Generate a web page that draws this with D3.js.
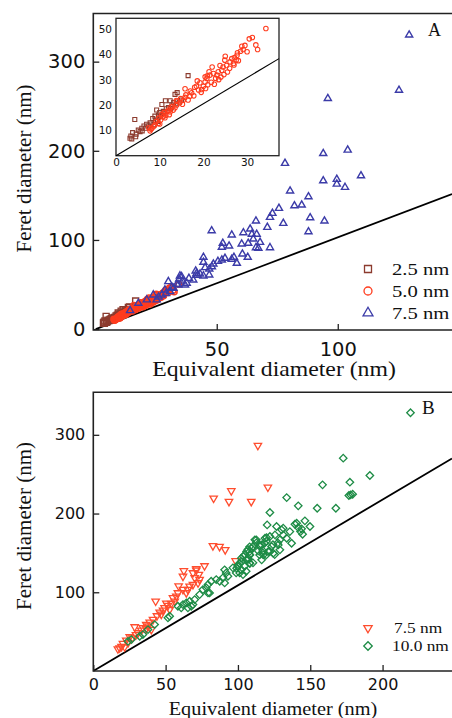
<!DOCTYPE html>
<html>
<head>
<meta charset="utf-8">
<script src="https://cdn.jsdelivr.net/npm/d3@7"></script>
<style>
  body { margin: 0; background: #fff; }
  svg { display: block; }
</style>
</head>
<body>
<svg id="chart" width="452" height="718"></svg>
<script>
// [equivalent diameter, feret diameter] in nm
const sq25 = [[3.2, 6.9], [3.4, 7.8], [3.8, 9.1], [4.6, 8.5], [5.1, 10.1], [5.9, 10.8], [6.4, 11.7], [4.3, 14.3],
    [7, 12.4], [7.8, 13], [8.4, 14.7], [8.9, 15.6], [9.3, 18], [9.7, 16], [10.5, 20.2], [11.3, 21.7], [12.4, 21.7],
    [13.5, 24.2], [14, 24.9], [16.5, 31.6], [10, 17], [10.8, 17.5], [11.5, 18.5], [12, 19], [12.8, 20], [13.2, 21],
    [7.5, 11.8], [8, 12.5], [9, 14], [6, 9.8], [5.5, 9.5], [10.2, 15.5], [11, 16.8], [12.5, 18.6], [13.8, 20.5],
    [14.5, 21.2], [15, 22], [9.5, 13.5], [8.7, 12.2], [3.6, 6.6], [4.5, 7.5], [6.8, 10.8]];

const circ50 = [[34.3, 50.2], [31.2, 46.6], [30.5, 46.1], [32, 43.7], [32.4, 41.9], [28.8, 43.2], [29.1, 41.9],
    [28.5, 41.2], [27.8, 40.6], [27.7, 39.6], [27.1, 38.7], [27.5, 37.7], [26.5, 38.3], [26.1, 37], [26.9, 36.4],
    [24.9, 37.7], [25.3, 35.6], [24.5, 35], [24.2, 33.7], [23.8, 35.6], [23.4, 33.1], [23.1, 31.8], [22.3, 32.4],
    [21.5, 31.8], [20.9, 31.5], [20.4, 31.1], [21.3, 33.1], [20.8, 30.5], [20.4, 29.1], [20, 27.4], [19.6, 26.1],
    [18.9, 25.9], [18.4, 27.4], [17.3, 24.8], [16.9, 23.5], [15.8, 23], [15.4, 21.9], [14.6, 20.9], [13.9, 20],
    [13.5, 18.9], [13.1, 18], [12.4, 17.3], [12, 18], [11.4, 16], [10.8, 15.4], [10.2, 14.1], [9.7, 12.8],
    [8.9, 12.1], [8.2, 10.8], [7.8, 9.8], [15.8, 26.4], [25, 39.2], [22, 35], [21.8, 29], [22.8, 30.5], [24, 31],
    [25.5, 33], [26, 34.5], [19.2, 28.8], [18, 27], [17, 25.5], [16.5, 22], [17.8, 23.6], [19.5, 25], [20.5, 26.5],
    [21, 28], [23.5, 30], [14.8, 22.5], [14, 21.5], [13, 19.5], [12.6, 19.2], [11.8, 17.5], [11, 17], [10.5, 16.3],
    [9.8, 14.8], [9.2, 13.5], [8.6, 11.5], [16, 24], [27, 35.8], [28, 37.5], [29.5, 43.5], [30, 41], [18.6, 29.5],
    [22.5, 28.2], [24.7, 32], [13.8, 21.8], [15.2, 20.3], [12.2, 16.2], [11.2, 15], [10, 12.5], [8, 10.5], [7.5, 11]];

const triA75 = [[129.5, 330], [125.3, 268], [95.9, 258.7], [94, 197], [104.1, 200.8], [78.2, 186], [94, 166.4],
    [99.6, 168], [109.6, 172], [80.3, 155], [87.9, 148.5], [99.6, 162.7], [103, 159], [82.1, 138.4], [85.1, 139.2],
    [75.7, 135.5], [73, 129.9], [72, 125.4], [88.6, 125], [94.5, 121.3], [66.2, 121.3], [77.5, 118.7], [70.9, 114.2],
    [87.9, 109.3], [63.8, 112.3], [61, 108.2], [47.9, 110.4], [56.2, 105.6], [64.5, 106.4], [66.5, 106.4],
    [65.1, 101.1], [67.9, 97.4], [52.5, 96.3], [60.3, 95.5], [63, 96.3], [52.1, 91.8], [55.1, 93.3], [66.2, 91.4],
    [67.2, 90.7], [72, 91.4], [44.5, 80.6], [60.6, 84.3], [62.8, 80.6], [52.1, 77.6], [53.4, 79.5], [56.2, 78.4],
    [57.1, 80.6], [58.3, 73.9], [48.6, 73.1], [44.5, 75], [45.2, 69], [46.9, 67.5], [41.3, 65.3], [43.1, 61.9],
    [46.9, 60.8], [44.5, 59.7], [35.5, 58.9], [34.5, 56.3], [40.3, 55.2], [30, 53.3], [36.9, 49.6], [33.5, 50.4],
    [32.1, 45.9], [28.6, 44], [34.8, 59.7], [37.6, 51.5], [34.1, 49.6], [41.7, 62.7], [30.7, 42.1], [27.3, 38.4],
    [23.8, 38.4], [21.1, 32.8], [17.6, 29.1], [14.2, 20.8], [25.2, 32.8], [26, 36], [29, 40], [31.5, 47],
    [35.8, 54], [38.5, 57], [42, 60.5], [48, 70], [50.5, 76]];

const triB75 = [[113.8, 286.4], [120.7, 233.4], [95.4, 228.8], [83.2, 219.4], [93.8, 215.2], [109.2, 215.2],
    [82.7, 159], [87.3, 158.1], [91.2, 153.9], [98.4, 139.9], [76.9, 133.5], [71.2, 129.7], [62.6, 127.2],
    [68.9, 124.6], [71.2, 128], [73, 122.5], [70.1, 118.3], [73.5, 116.1], [72.4, 111.9], [68.9, 109.8],
    [66.6, 107.6], [65.4, 103.4], [64.3, 99.2], [62, 103.4], [58.5, 99.2], [57.4, 94.9], [55.1, 92.9], [56.3, 88.6],
    [53.9, 85.6], [51.6, 83.1], [49.3, 80.2], [48.2, 77.1], [45.9, 74.6], [43.1, 88.6], [41.3, 65.3], [39, 61.9],
    [36.6, 59], [34.3, 54.8], [33.2, 51.7], [30.9, 48.4], [28.6, 56], [25.2, 43.3], [22.8, 39], [20.5, 34.8],
    [18.2, 29.3], [21.7, 30.6], [24, 35.7], [62, 120.3], [52.8, 78], [36.6, 53.5], [40.1, 52.6], [17, 28],
    [19.5, 31], [27, 42], [29.5, 46], [38, 57], [44, 70], [47, 72], [50.5, 86], [59, 108]];

const dia100 = [[219.3, 328], [172.8, 270.3], [191.2, 248.3], [158.5, 236.5], [177.4, 239.8], [177.9, 223.8],
    [176.7, 222.9], [179.3, 224.5], [133.7, 220.3], [141.7, 209.8], [154.8, 206.7], [167.7, 206.7], [122.1, 201.3],
    [120.2, 185.6], [126.7, 183.5], [130.2, 179.3], [131.3, 172.9], [135.9, 177.1], [137.1, 162.3], [133.7, 168.6],
    [125.6, 172.9], [122.1, 170.8], [118.7, 168.6], [116.4, 160.2], [114, 152.6], [111.7, 166.6], [109.5, 155.9],
    [106, 151.7], [103.7, 145.4], [102.6, 139], [100.2, 134.8], [99.1, 130.5], [107.1, 143.2], [108.3, 136.9],
    [139.4, 186.4], [141.7, 182.2], [144, 180.6], [146.3, 190.7], [149.8, 183.5], [143.3, 177.1], [144.7, 173.7],
    [140.6, 187.7], [123.3, 158.1], [124.4, 149.6], [127.9, 160.2], [129, 153.9], [120.9, 151.7], [117.5, 147.5],
    [116.4, 141.2], [108.3, 147.5], [131.3, 181.4], [119.8, 169.5], [129, 166.6], [112.7, 166.6], [115, 160.2],
    [118.4, 162.3], [110.4, 158.1], [108.1, 151.7], [104.6, 147.5], [102.3, 143.2], [105.7, 141.2], [101.2, 136.9],
    [100, 132.7], [108.1, 136.9], [115, 147.5], [117.3, 152.6], [119.6, 147.5], [90.8, 128.5], [108.1, 157.7],
    [112.7, 162.8], [115, 158.5], [119.6, 164.8], [124.2, 160.6], [127.6, 162.8], [117.2, 150.1], [121.9, 152.1],
    [125.4, 147.9], [108.1, 147.9], [106.9, 141.5], [110.4, 137.4], [104.6, 133], [102.3, 128.8], [101.2, 124.6],
    [103.5, 122.5], [105.7, 126.7], [98.8, 124.6], [91.9, 124.6], [93.1, 120.3], [89.6, 118.3], [90.8, 111.9],
    [87.4, 114], [85, 116.1], [81.5, 114], [79.3, 109.8], [78.1, 105.6], [80.4, 99.2], [75.8, 103.4], [73.5, 97.1],
    [79.3, 99.2], [70.1, 90.7], [66.6, 88.6], [67.7, 82.2], [64.3, 86.5], [62, 84.4], [60.8, 80.2], [58.5, 82.2],
    [65.4, 80.2], [68.9, 84.4], [52.8, 69.5], [51.6, 67.5], [42.4, 59], [37.8, 52.6], [34.3, 46.3], [32.1, 44.1],
    [26.3, 39.9], [24, 37.7], [106.9, 154.3], [96.5, 131]];

// reference lines (start and end points as drawn)
const refA = [[0, 0], [147.2, 151.5]];
const refInset = [[0, 0], [37.3, 38.3]];
const refB = [[0, 0], [248, 270]];

const ticksAx = [50, 100];
const ticksAy = [0, 100, 200, 300];
const ticksInsetX = [0, 10, 20, 30];
const ticksInsetY = [10, 20, 30, 40, 50];
const ticksBx = [0, 50, 100, 150, 200];
const ticksBy = [100, 200, 300];
const legendA = ['2.5 nm', '5.0 nm', '7.5 nm'];
const legendB = ['7.5 nm', '10.0 nm'];

const serif = '"Liberation Serif", "Times New Roman", serif';
const sans = '"DejaVu Sans", sans-serif';
const colors = { sq: '#8c3b2e', circ: '#ff3c1e', triA: '#3b3ba8', triB: '#ff4d2e', dia: '#1e8c46' };

const svg = d3.select('#chart');

// marker shapes
const shapes = {
    sq: s => ({ type: d3.symbolSquare, size: s, rot: 0 }),
    circ: s => ({ type: d3.symbolCircle, size: s, rot: 0 }),
    up: s => ({ type: d3.symbolTriangle, size: s, rot: 0 }),
    down: s => ({ type: d3.symbolTriangle, size: s, rot: 180 }),
    dia: s => ({ type: d3.symbolSquare, size: s, rot: 45 }),
};

function markers(g, data, x, y, shape, color, sw) {
    const sym = d3.symbol().type(shape.type).size(shape.size);
    g.append('g')
        .selectAll('path')
        .data(data)
        .join('path')
        .attr('d', sym)
        .attr('transform', d => `translate(${x(d[0])},${y(d[1])}) rotate(${shape.rot})`)
        .attr('fill', 'none')
        .attr('stroke', color)
        .attr('stroke-width', sw);
}

function text(g, px, py, str, size, family, sx, rot) {
    return g.append('text')
        .attr('transform', `translate(${px},${py}) rotate(${rot || 0}) scale(${sx},1)`)
        .attr('font-family', family)
        .attr('font-size', size)
        .attr('fill', '#111')
        .text(str);
}

function axes(g, x, y, xt, yt, o) {
    const bottom = y.range()[0];
    const left = x.range()[0];
    g.append('g')
        .attr('transform', `translate(0,${bottom})`)
        .call(d3.axisBottom(x).tickValues(xt).tickSize(-o.tick).tickPadding(o.padX).tickFormat(d3.format('d')))
        .call(a => a.select('.domain').remove());
    g.append('g')
        .attr('transform', `translate(${left},0)`)
        .call(d3.axisLeft(y).tickValues(yt).tickSize(-o.tick).tickPadding(o.padY).tickFormat(d3.format('d')))
        .call(a => a.select('.domain').remove());
    g.selectAll('.tick line').attr('stroke', '#222').attr('stroke-width', 1.3);
    g.selectAll('.tick text')
        .attr('font-family', sans)
        .attr('font-size', o.font)
        .attr('fill', '#111');
}

function frame(g, x, y) {
    const [l, r] = x.range();
    const [b, t] = y.range();
    g.append('path')
        .attr('d', `M${r + 2},${t}H${l}V${b}H${r + 2}`)
        .attr('fill', 'none')
        .attr('stroke', '#222')
        .attr('stroke-width', 1.6);
}

function refLine(g, pts, x, y, sw) {
    g.append('path')
        .attr('d', d3.line().x(d => x(d[0])).y(d => y(d[1]))(pts))
        .attr('fill', 'none')
        .attr('stroke', '#000')
        .attr('stroke-width', sw);
}

// ---------- panel A ----------
const xA = d3.scaleLinear().domain([-1, 147.2]).range([93.3, 452]);
const yA = d3.scaleLinear().domain([-1, 354]).range([330, 13.5]);
const gA = svg.append('g');

axes(gA, xA, yA, ticksAx, ticksAy, { tick: 6, padX: 12, padY: 8, font: 19.5 });
refLine(gA, refA, xA, yA, 1.8);
markers(gA, sq25, xA, yA, shapes.sq(36), colors.sq, 1.4);
markers(gA, circ50, xA, yA, shapes.circ(28), colors.circ, 1.5);
markers(gA, triA75, xA, yA, shapes.up(22), colors.triA, 1.4);
frame(gA, xA, yA);

text(gA, 274, 376, 'Equivalent diameter (nm)', 21, serif, 1.13).attr('text-anchor', 'middle');
text(gA, 31, 168.5, 'Feret diameter (nm)', 21, serif, 1, -90).attr('text-anchor', 'middle');
text(gA, 428, 35.7, 'A', 18, serif, 1);

// legend A
const legA = [[shapes.sq(49), colors.sq], [shapes.circ(50), colors.circ], [shapes.up(43), colors.triA]];
legendA.forEach((lab, i) => {
    const cy = 269 + i * 22;
    const [shape, color] = legA[i];
    gA.append('path')
        .attr('d', d3.symbol().type(shape.type).size(shape.size))
        .attr('transform', `translate(368,${cy})`)
        .attr('fill', 'none')
        .attr('stroke', color)
        .attr('stroke-width', 1.3);
    text(gA, 392, cy + 5.5, lab, 17.5, serif, 1.18);
});

// inset
const xI = d3.scaleLinear().domain([0, 37.3]).range([116, 279]);
const yI = d3.scaleLinear().domain([0, 54.2]).range([155.7, 18.3]);
const gI = svg.append('g');
gI.append('rect')
    .attr('x', 116).attr('y', 18.3)
    .attr('width', 163).attr('height', 137.4)
    .attr('fill', '#fff')
    .attr('stroke', '#222')
    .attr('stroke-width', 1.3);
axes(gI, xI, yI, ticksInsetX, ticksInsetY, { tick: 0, padX: 3, padY: 4, font: 10.5 });
refLine(gI, refInset, xI, yI, 1.1);
markers(gI, sq25, xI, yI, shapes.sq(16), colors.sq, 1.1);
markers(gI, circ50, xI, yI, shapes.circ(16), colors.circ, 1.1);

// ---------- panel B ----------
const xB = d3.scaleLinear().domain([0, 248]).range([93.3, 452]);
const yB = d3.scaleLinear().domain([0, 354]).range([671, 392.3]);
const gB = svg.append('g');

axes(gB, xB, yB, ticksBx, ticksBy, { tick: 6, padX: 8, padY: 8, font: 16 });
refLine(gB, refB, xB, yB, 1.8);
markers(gB, triB75, xB, yB, shapes.down(24), colors.triB, 1.3);
markers(gB, dia100, xB, yB, shapes.dia(28), colors.dia, 1.3);
frame(gB, xB, yB);

text(gB, 273, 715, 'Equivalent diameter (nm)', 19, serif, 1.07).attr('text-anchor', 'middle');
text(gB, 31, 526, 'Feret diameter (nm)', 21, serif, 1, -90).attr('text-anchor', 'middle');
text(gB, 422, 413.7, 'B', 19, serif, 1);

// legend B
const legB = [[shapes.down(30), colors.triB], [shapes.dia(36), colors.dia]];
legendB.forEach((lab, i) => {
    const cy = 628 + i * 18;
    const [shape, color] = legB[i];
    gB.append('path')
        .attr('d', d3.symbol().type(shape.type).size(shape.size))
        .attr('transform', `translate(368,${cy}) rotate(${shape.rot})`)
        .attr('fill', 'none')
        .attr('stroke', color)
        .attr('stroke-width', 1.3);
    text(gB, i === 0 ? 394 : 392, cy + 5, lab, 15.5, serif, 1.12);
});
</script>
</body>
</html>
